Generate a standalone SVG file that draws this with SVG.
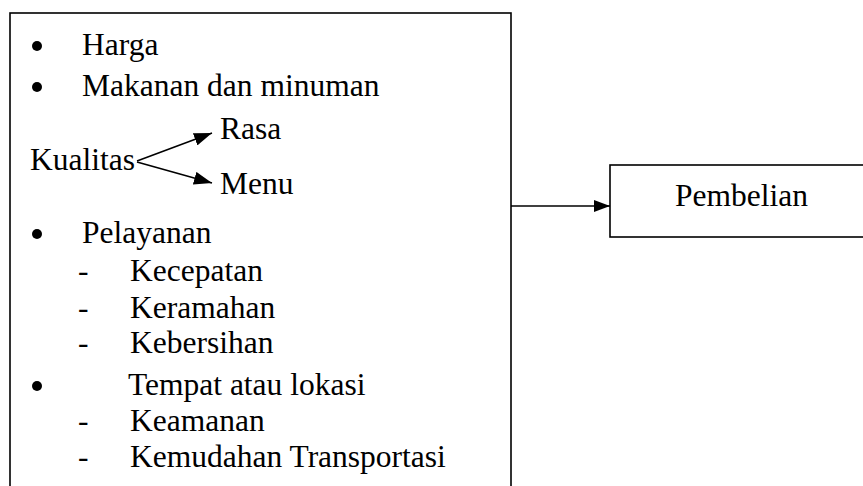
<svg xmlns="http://www.w3.org/2000/svg" width="863" height="486" viewBox="0 0 863 486">
  <style>
    .box { fill: #fff; stroke: #000; stroke-width: 1.6; }
    .t { font-family: "Liberation Serif", "Times New Roman", serif; font-size: 31.5px; fill: #000; }
    .link { stroke: #000; stroke-width: 1.6; fill: none; }
    .dot { fill: #000; }
  </style>
  <defs>
    <marker id="head" viewBox="0 0 10 10" refX="10" refY="5" markerWidth="18" markerHeight="13" markerUnits="userSpaceOnUse" orient="auto" preserveAspectRatio="none">
      <path d="M0,0 L10,5 L0,10 z" fill="#000"/>
    </marker>
    <marker id="headMain" viewBox="0 0 10 10" refX="10" refY="5" markerWidth="16" markerHeight="12" markerUnits="userSpaceOnUse" orient="auto" preserveAspectRatio="none">
      <path d="M0,0 L10,5 L0,10 z" fill="#000"/>
    </marker>
  </defs>

  <rect width="863" height="486" fill="#fff"/>

  <!-- factors box -->
  <g id="factors">
    <rect class="box" x="10" y="13" width="501" height="490"/>
    <circle class="dot" cx="37" cy="46" r="5"/>
    <text class="t" x="82" y="55">Harga</text>
    <circle class="dot" cx="37" cy="87" r="5"/>
    <text class="t" x="82" y="96">Makanan dan minuman</text>
    <text class="t" x="30" y="170">Kualitas</text>
    <text class="t" x="220" y="139">Rasa</text>
    <text class="t" x="220" y="194">Menu</text>
    <circle class="dot" cx="37" cy="234" r="5"/>
    <text class="t" x="82" y="243">Pelayanan</text>
    <text class="t" x="78" y="281">-</text>
    <text class="t" x="130" y="281">Kecepatan</text>
    <text class="t" x="78" y="318">-</text>
    <text class="t" x="130" y="318">Keramahan</text>
    <text class="t" x="78" y="353">-</text>
    <text class="t" x="130" y="353">Kebersihan</text>
    <circle class="dot" cx="37" cy="386" r="5"/>
    <text class="t" x="128" y="395">Tempat atau lokasi</text>
    <text class="t" x="78" y="431">-</text>
    <text class="t" x="130" y="431">Keamanan</text>
    <text class="t" x="78" y="467">-</text>
    <text class="t" x="130" y="467">Kemudahan Transportasi</text>
  </g>

  <!-- outcome box -->
  <g id="pembelian">
    <rect class="box" x="610" y="165" width="270" height="72"/>
    <text class="t" x="675" y="206">Pembelian</text>
  </g>

  <g id="connectors">
    <line class="link" x1="137" y1="161" x2="212" y2="133" marker-end="url(#head)"/>
    <line class="link" x1="137" y1="162" x2="212" y2="183" marker-end="url(#head)"/>
    <line class="link" x1="511" y1="206" x2="610" y2="206" marker-end="url(#headMain)"/>
  </g>
</svg>
